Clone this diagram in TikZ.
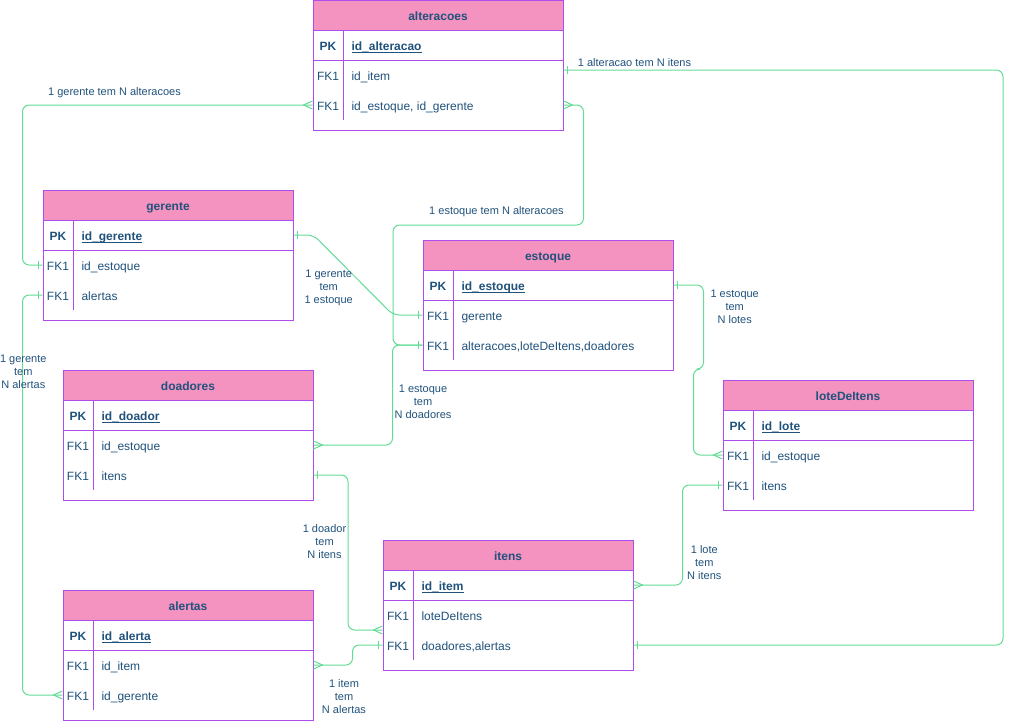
\documentclass[tikz,border=0pt]{standalone}
\usepackage{fontspec}
\setmainfont{Liberation Sans}
\usepackage{tikz}
\usetikzlibrary{arrows.meta}
\definecolor{erhead}{HTML}{F492C0}
\definecolor{erborder}{HTML}{AE4DEC}
\definecolor{ertext}{HTML}{20527C}
\definecolor{erlink}{HTML}{62DC95}
% crow's foot (many) and single bar (one)
\pgfdeclarearrow{
  name = crow,
  parameters = {\the\pgfarrowlength,\the\pgfarrowwidth},
  setup code = {
    \pgfarrowssettipend{0pt}
    \pgfarrowssetlineend{0pt}
    \pgfarrowssetbackend{-\pgfarrowlength}
    \pgfarrowssetvisualbackend{-\pgfarrowlength}
    \pgfarrowshullpoint{0pt}{.5\pgfarrowwidth}
    \pgfarrowshullpoint{0pt}{-.5\pgfarrowwidth}
    \pgfarrowshullpoint{-\pgfarrowlength}{0pt}
    \pgfarrowssavethe\pgfarrowlength
    \pgfarrowssavethe\pgfarrowwidth
  },
  drawing code = {
    \pgfpathmoveto{\pgfqpoint{0pt}{.5\pgfarrowwidth}}
    \pgfpathlineto{\pgfqpoint{-\pgfarrowlength}{0pt}}
    \pgfpathlineto{\pgfqpoint{0pt}{-.5\pgfarrowwidth}}
    \pgfusepathqstroke
  },
  defaults = {length=6.75pt, width=6pt}
}
\pgfdeclarearrow{
  name = onebar,
  parameters = {\the\pgfarrowlength,\the\pgfarrowwidth},
  setup code = {
    \pgfarrowssettipend{0pt}
    \pgfarrowssetlineend{0pt}
    \pgfarrowssetbackend{-\pgfarrowlength}
    \pgfarrowssetvisualbackend{-\pgfarrowlength}
    \pgfarrowshullpoint{0pt}{.5\pgfarrowwidth}
    \pgfarrowshullpoint{-\pgfarrowlength}{.5\pgfarrowwidth}
    \pgfarrowshullpoint{-\pgfarrowlength}{-.5\pgfarrowwidth}
    \pgfarrowshullpoint{0pt}{-.5\pgfarrowwidth}
    \pgfarrowssavethe\pgfarrowlength
    \pgfarrowssavethe\pgfarrowwidth
  },
  drawing code = {
    \pgfpathmoveto{\pgfqpoint{-\pgfarrowlength}{.5\pgfarrowwidth}}
    \pgfpathlineto{\pgfqpoint{-\pgfarrowlength}{-.5\pgfarrowwidth}}
    \pgfusepathqstroke
  },
  defaults = {length=2.8pt, width=6pt}
}
\tikzstyle{tablebox} = [draw=erborder, fill=white, rectangle,
    minimum width=187.5pt, minimum height=97.5pt, inner sep=0pt]
\tikzstyle{header} = [draw=erborder, fill=erhead, rectangle, text=ertext,
    minimum width=187.5pt, minimum height=22.5pt, inner sep=0pt,
    text height=9.4pt, text depth=1.9pt, font=\fontsize{9}{10.8}\selectfont\bfseries]
\tikzstyle{keycol} = [text=ertext, inner sep=0pt, text height=9.4pt, text depth=1.9pt,
    font=\fontsize{9}{10.8}\selectfont]
\tikzstyle{field} = [keycol, anchor=west]
\tikzstyle{relation} = [draw=erlink, rounded corners=5pt]
\tikzstyle{reltext} = [text=ertext, align=center, inner sep=0pt,
    font=\fontsize{8.25}{9.75}\selectfont]
\tikzstyle{input} = [coordinate]

\begin{document}
\begin{tikzpicture}[x=0.75pt, y=-0.75pt, line width=0.75pt]
\useasboundingbox (0,0) rectangle (1013,721);
% Tables
\foreach \tbl/\x/\y/\pk/\fa/\fb in {
    alteracoes/313/0/id\_alteracao/id\_item/{id\_estoque, id\_gerente},
    gerente/43/190/id\_gerente/id\_estoque/alertas,
    estoque/423/240/id\_estoque/gerente/{alteracoes,loteDeItens,doadores},
    doadores/63/370/id\_doador/id\_estoque/itens,
    loteDeItens/723/380/id\_lote/id\_estoque/itens,
    itens/383/540/id\_item/loteDeItens/{doadores,alertas},
    alertas/63/590/id\_alerta/id\_item/id\_gerente}{
	\node [tablebox] (\tbl) at ({\x+125},{\y+65}) {};
	\node [header, anchor=north] (\tbl-h) at (\tbl.north) {\tbl};
	\draw [erborder] ({\x},{\y+60}) -- ({\x+250},{\y+60});
	\draw [erborder] ({\x+30},{\y+30}) -- ({\x+30},{\y+120});
	\node [keycol, font=\fontsize{9}{10.8}\selectfont\bfseries] (\tbl-k0) at ({\x+15},{\y+45}) {PK};
	\node [field, font=\fontsize{9}{10.8}\selectfont\bfseries] (\tbl-pk) at ({\x+38},{\y+45}) {\underline{\smash{\pk}}};
	\node [keycol] (\tbl-k1) at ({\x+15},{\y+75}) {FK1};
	\node [field] (\tbl-fa) at ({\x+38},{\y+75}) {\fa};
	\node [keycol] (\tbl-k2) at ({\x+15},{\y+105}) {FK1};
	\node [field] (\tbl-fb) at ({\x+38},{\y+105}) {\fb};
}
% Bend points
\node [input, name=bend1] at (1003,70) {};
\node [input, name=bend2] at (393,225) {};
\node [input, name=bend3] at (393,315) {};
\node [input, name=bend4] at (348,630) {};
% Relations
\draw [relation, onebar-crow] (gerente.west |- gerente-fa) -- ++(-20,0) |- (alteracoes.west |- alteracoes-fb);
\draw [relation, onebar-crow] (gerente.west |- gerente-fb) -- ++(-20,0) |- (alertas.west |- alertas-fb);
\draw [relation, onebar-onebar] (alteracoes.east |- bend1) -- (bend1) |- (itens.east |- itens-fb);
\draw [relation, crow-onebar] (alteracoes.east |- alteracoes-fb) -- ++(20,0) |- (bend2) |- (estoque.west |- estoque-fb);
\draw [relation, onebar-onebar] (gerente.east |- gerente-pk) -- ++(20,0) -- (bend3) -- (estoque.west |- estoque-fa);
\draw [relation, onebar-crow] (estoque.west |- estoque-fb) -- ++(-30,0) |- (doadores.east |- doadores-fa);
\draw [relation, onebar-crow] (estoque.east |- estoque-pk) -- ++(30,0) -- ++(0,84) -- ++(-10,0) |- (loteDeItens.west |- loteDeItens-fa);
\draw [relation, onebar-crow] (loteDeItens.west |- loteDeItens-fb) -- ++(-40,0) |- (itens.east |- itens-pk);
\draw [relation, onebar-crow] (doadores.east |- doadores-fb) -| (bend4) -- (itens.west |- bend4);
\draw [relation, onebar-crow] (itens.west |- itens-fb) -- ++(-30,0) |- (alertas.east |- alertas-fa);
% Relation labels
\node [reltext] (lbl1) at (114.5,92.5) {1 gerente tem N alteracoes};
\node [reltext] (lbl2) at (23.3,371.8) {1 gerente\\tem\\N alertas};
\node [reltext] (lbl3) at (634.5,62.1) {1 alteracao tem N itens};
\node [reltext] (lbl4) at (496.5,211.8) {1 estoque tem N alteracoes};
\node [reltext] (lbl5) at (328.7,287.5) {1 gerente\\tem\\1 estoque};
\node [reltext] (lbl6) at (423,401.8) {1 estoque\\tem\\N doadores};
\node [reltext] (lbl7) at (734.7,306.8) {1 estoque\\tem\\N lotes};
\node [reltext] (lbl8) at (704.3,562.1) {1 lote\\tem\\N itens};
\node [reltext] (lbl9) at (324.5,541.8) {1 doador\\tem\\N itens};
\node [reltext] (lbl10) at (344,696.8) {1 item\\tem\\N alertas};
\end{tikzpicture}
\end{document}
